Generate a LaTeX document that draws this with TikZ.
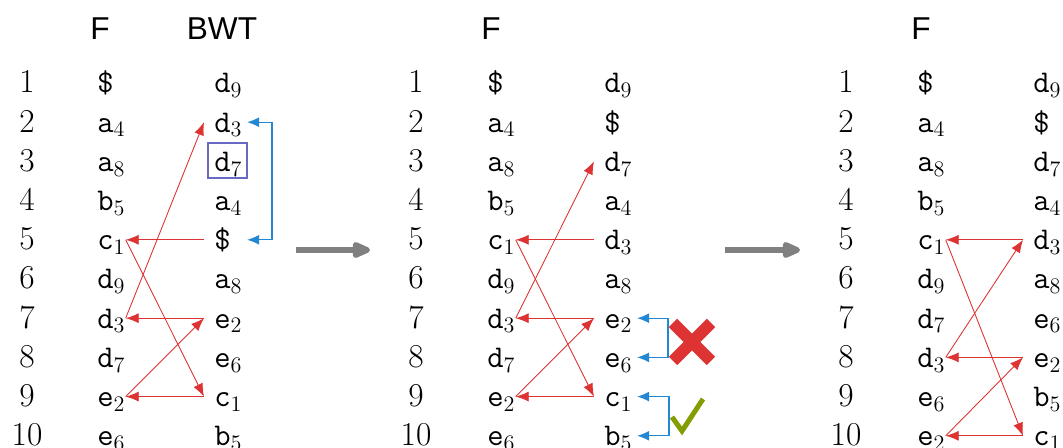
\documentclass[tikz,border=0pt]{standalone}
\usepackage{fix-cm}
\usepackage{fontspec}
\newfontfamily\headfont{Liberation Sans}
\usetikzlibrary{calc, arrows.meta}

\definecolor{lfred}{RGB}{221,51,51}
\definecolor{lfblue}{RGB}{35,135,210}
\definecolor{boxpurple}{RGB}{105,105,195}
\definecolor{okgreen}{RGB}{130,158,0}

\newcommand{\tsym}[2]{\texttt{#1}$_{#2}$}
\newcommand{\dol}{\texttt{\$}}

\tikzset{
    every node/.style={font=\fontsize{18}{20}\selectfont},
    num/.style={anchor=base, inner sep=0pt, font=\fontsize{19}{20}\selectfont},
    fcol/.style={anchor=base west, inner xsep=0pt, inner ysep=0pt, text width=5.6mm, text height=4.4mm, text depth=0.4mm},
    bcol/.style={anchor=base west, inner xsep=2mm, inner ysep=0pt, text width=4.5mm, text height=4.4mm, text depth=0.4mm},
    head/.style={anchor=base, inner sep=0pt, font=\fontsize{18}{20}\headfont},
    redarr/.style={draw=lfred, line width=0.5pt, -{Latex[length=2.6mm, width=2mm]}},
    bluearr/.style={draw=lfblue, line width=0.6pt, {Latex[length=2.4mm, width=2mm]}-{Latex[length=2.4mm, width=2mm]}},
    bigarr/.style={draw=gray, line width=1.2mm, -{Triangle[length=4.4mm, width=3.4mm, round]}},
    selbox/.style={draw=boxpurple, line width=0.4mm},
    crossmark/.style={draw=lfred, line width=2.4mm},
    checkmark/.style={draw=okgreen, line width=1mm},
}

\begin{document}
\begin{tikzpicture}[x=0.02cm, y=-0.02cm]
    \useasboundingbox (0,0) rectangle (1063,448);

    % headers
    \node[head] (LFh) at (100,40) {F};
    \node[head] (LBh) at (222,40) {BWT};
    \node[head] (MFh) at (491,40) {F};
    \node[head] (RFh) at (921,40) {F};

    % row numbers
    \foreach \p/\x in {L/27, M/416, R/846} {
        \foreach \i in {1,...,10} {
            \node[num] (\p N\i) at (\x, {93+39.2*(\i-1)}) {\i};
        }
    }

    % F columns
    \foreach \t [count=\i] in {\dol, \tsym{a}{4}, \tsym{a}{8}, \tsym{b}{5}, \tsym{c}{1}, \tsym{d}{9}, \tsym{d}{3}, \tsym{d}{7}, \tsym{e}{2}, \tsym{e}{6}} {
        \node[fcol] (LF\i) at (97, {93+39.2*(\i-1)}) {\t};
        \node[fcol] (MF\i) at (487, {93+39.2*(\i-1)}) {\t};
    }
    \foreach \t [count=\i] in {\dol, \tsym{a}{4}, \tsym{a}{8}, \tsym{b}{5}, \tsym{c}{1}, \tsym{d}{9}, \tsym{d}{7}, \tsym{d}{3}, \tsym{e}{6}, \tsym{e}{2}} {
        \node[fcol] (RF\i) at (917, {93+39.2*(\i-1)}) {\t};
    }

    % BWT columns
    \foreach \t [count=\i] in {\tsym{d}{9}, \tsym{d}{3}, \tsym{d}{7}, \tsym{a}{4}, \dol, \tsym{a}{8}, \tsym{e}{2}, \tsym{e}{6}, \tsym{c}{1}, \tsym{b}{5}} {
        \node[bcol] (LB\i) at (204, {93+39.2*(\i-1)}) {\t};
    }
    \foreach \t [count=\i] in {\tsym{d}{9}, \dol, \tsym{d}{7}, \tsym{a}{4}, \tsym{d}{3}, \tsym{a}{8}, \tsym{e}{2}, \tsym{e}{6}, \tsym{c}{1}, \tsym{b}{5}} {
        \node[bcol] (MB\i) at (594, {93+39.2*(\i-1)}) {\t};
    }
    \foreach \t [count=\i] in {\tsym{d}{9}, \dol, \tsym{d}{7}, \tsym{a}{4}, \tsym{d}{3}, \tsym{a}{8}, \tsym{e}{6}, \tsym{e}{2}, \tsym{b}{5}, \tsym{c}{1}} {
        \node[bcol] (RB\i) at (1023, {93+39.2*(\i-1)}) {\t};
    }

    % selected entry
    \draw[selbox] ([shift={(4,4.6)}]LB3.south west) rectangle ([shift={(0,-6.4)}]LB3.north east);

    % LF walk, left
    \draw[redarr] (LB5.west) -- (LF5.east);
    \draw[redarr] (LF5.east) -- (LB9.west);
    \draw[redarr] (LB9.west) -- (LF9.east);
    \draw[redarr] (LF9.east) -- (LB7.west);
    \draw[redarr] (LB7.west) -- (LF7.east);
    \draw[redarr] (LF7.east) -- (LB2.west);

    \coordinate (Lbr) at (272,180);
    \draw[bluearr] (LB2.east) -| (Lbr) |- (LB5.east);

    % LF walk, middle
    \draw[redarr] (MB5.west) -- (MF5.east);
    \draw[redarr] (MF5.east) -- (MB9.west);
    \draw[redarr] (MB9.west) -- (MF9.east);
    \draw[redarr] (MF9.east) -- (MB7.west);
    \draw[redarr] (MB7.west) -- (MF7.east);
    \draw[redarr] (MF7.east) -- (MB3.west);

    \coordinate (Mbr1) at (668,330);
    \coordinate (Mbr2) at (669,410);
    \draw[bluearr] (MB7.east) -| (Mbr1) |- (MB8.east);
    \draw[bluearr] (MB9.east) -| (Mbr2) |- (MB10.east);

    \draw[crossmark] (673,323) -- (711,361);
    \draw[crossmark] (673,361) -- (711,323);
    \draw[checkmark] (672,417) -- (682,431) -- (703,399);

    % LF walk, right
    \draw[redarr] (RB5.west) -- (RF5.east);
    \draw[redarr] (RF5.east) -- (RB10.west);
    \draw[redarr] (RB10.west) -- (RF10.east);
    \draw[redarr] (RF10.east) -- (RB8.west);
    \draw[redarr] (RB8.west) -- (RF8.east);
    \draw[redarr] (RF8.east) -- (RB5.west);

    % steps
    \coordinate (S1a) at (296,250);
    \coordinate (S1b) at (370,250);
    \coordinate (S2a) at (725,250);
    \coordinate (S2b) at (800,250);
    \draw[bigarr] (S1a) -- (S1b);
    \draw[bigarr] (S2a) -- (S2b);
\end{tikzpicture}
\end{document}
